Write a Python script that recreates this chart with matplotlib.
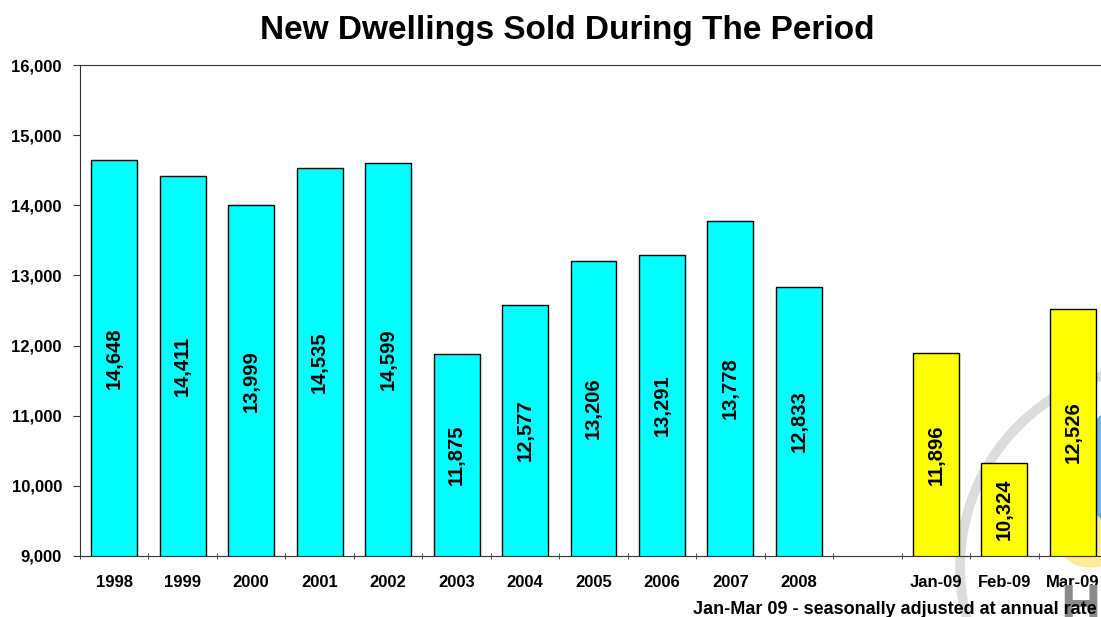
import numpy as np
import matplotlib.pyplot as plt
from matplotlib.patches import Arc, Ellipse

plt.rcParams['font.family'] = ['Liberation Sans', 'DejaVu Sans']

# data
years = ['1998', '1999', '2000', '2001', '2002', '2003', '2004',
         '2005', '2006', '2007', '2008']
year_sales = [14648, 14411, 13999, 14535, 14599, 11875, 12577,
              13206, 13291, 13778, 12833]
months = ['Jan-09', 'Feb-09', 'Mar-09']
month_sales = [11896, 10324, 12526]

labels = years + [''] + months
n = len(labels)
x_years = np.arange(len(years))
x_months = np.arange(len(years) + 1, n)

fig = plt.figure(figsize=(11.01, 6.17), dpi=100)
ax = fig.add_axes([80 / 1101, 61 / 617, 1027 / 1101, 491 / 617])

# faint logo in the background (bottom right), pixel coords from bottom-left
arc = Arc((1160, 50), 400, 400, theta1=90, theta2=200, transform=None,
          color='#dcdcdc', lw=7, zorder=0)
fig.add_artist(arc)
blob = Ellipse((1110, 150), 50, 110, transform=None, color='#4aa3e8',
               alpha=0.8, zorder=0)
fig.add_artist(blob)
glow = Ellipse((1090, 75), 60, 50, transform=None, color='#ffe680',
               alpha=0.8, zorder=0)
fig.add_artist(glow)
fig.text(1060 / 1101, -18 / 617, 'HAI', fontsize=40, fontweight='bold',
         color='#8a8a8a', ha='left', va='bottom', zorder=0)

ax.bar(x_years, year_sales, width=0.67, color='#00ffff', edgecolor='black',
       linewidth=1, zorder=2)
ax.bar(x_months, month_sales, width=0.67, color='#ffff00', edgecolor='black',
       linewidth=1, zorder=2)

ymin, ymax = 9000, 16000
for xs, vals in ((x_years, year_sales), (x_months, month_sales)):
    for xi, v in zip(xs, vals):
        ax.text(xi, (ymin + v) / 2, f'{v:,}', rotation=90, ha='center',
                va='center', fontsize=14.5, fontweight='bold', zorder=3)

ax.set_xlim(-0.5, n - 0.5)
ax.set_ylim(ymin, ymax)
ax.set_yticks(np.arange(ymin, ymax + 1, 1000))
ax.set_yticklabels([f'{v:,}' for v in range(ymin, ymax + 1, 1000)],
                   fontsize=12, fontweight='bold')
ax.set_xticks(np.arange(n))
ax.set_xticklabels(labels, fontsize=12, fontweight='bold')
ax.set_xticks(np.arange(-0.5, n, 1), minor=True)
ax.tick_params(axis='x', which='major', length=0, pad=14)
ax.tick_params(axis='x', which='minor', length=5, direction='inout',
               color='#333333')
ax.tick_params(axis='y', length=5, direction='out', color='#333333', pad=8)

for side in ('left', 'bottom', 'top'):
    ax.spines[side].set_color('#333333')
ax.spines['right'].set_visible(False)
ax.set_facecolor('none')

fig.suptitle('New Dwellings Sold During The Period', x=0.515, y=0.975,
             fontsize=24, fontweight='bold')
fig.text(1097 / 1101, 8 / 617, 'Jan-Mar 09 - seasonally adjusted at annual rate',
         ha='right', va='center', fontsize=13, fontweight='bold')

fig.savefig('out.png', dpi=100)
